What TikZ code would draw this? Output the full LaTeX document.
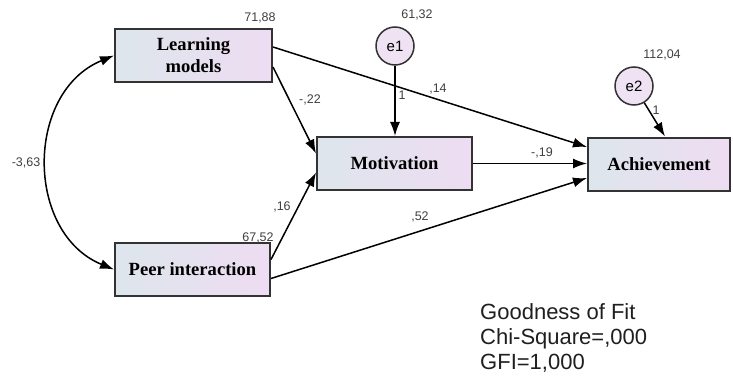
\documentclass[tikz,border=0pt]{standalone}
\usepackage{fontspec}
\setmainfont{Liberation Serif}
\setsansfont{Liberation Sans}
\usetikzlibrary{arrows.meta}
\definecolor{boxL}{HTML}{DDE6EC}
\definecolor{boxR}{HTML}{EEDCF2}
\definecolor{circfill}{HTML}{EEE2F3}
\definecolor{edgegray}{HTML}{333333}
\definecolor{lblgray}{HTML}{404040}
\tikzset{
  varbox/.style={draw=edgegray, line width=2pt, left color=boxL, right color=boxR,
    minimum height=53pt, inner sep=0pt, align=center,
    font=\fontsize{18.6}{22}\selectfont\bfseries},
  errc/.style={circle, draw=edgegray, line width=1.5pt, fill=circfill, minimum size=38pt,
    inner sep=0pt, font=\sffamily\fontsize{15}{15}\selectfont},
  path/.style={draw=black, line width=1.5pt, -{Latex[length=14pt,width=10pt]}},
  lbl/.style={text=lblgray, inner sep=0pt, font=\sffamily\fontsize{12.5}{13}\selectfont}
}
\begin{document}
\begin{tikzpicture}[x=1pt,y=-1pt]
\useasboundingbox (0,0) rectangle (733,377);
% boxes
\node[varbox, minimum width=157pt] (lm) at (193.5,55.5) {Learning\\models};
\node[varbox, minimum width=155pt] (pi) at (192.5,269.5) {Peer interaction};
\node[varbox, minimum width=155pt] (mot) at (394.5,163.5) {Motivation};
\node[varbox, minimum width=142pt] (ach) at (659,164) {Achievement};
% error terms
\node[errc] (e1) at (395,46) {e1};
\node[errc] (e2) at (634,86) {e2};
% paths
\draw[path] ([yshift=8.5pt]lm.east) -- ([yshift=17pt]ach.west);
\draw[path] ([yshift=-11.5pt]lm.east) -- ([yshift=10pt]mot.west);
\draw[path] ([yshift=10pt]pi.east) -- ([yshift=-9pt]mot.west);
\draw[path] ([yshift=-9pt]pi.east) -- ([yshift=-14pt]ach.west);
\draw[path] (mot.east) -- (mot.east -| ach.west);
\draw[path] (e1) -- (mot.north -| e1);
\draw[path] (e2) -- ([xshift=6pt]ach.north);
% covariance
\draw[draw=black, line width=1.5pt, {Latex[length=14pt,width=10pt]}-{Latex[length=14pt,width=10pt]}]
  (lm.west) .. controls (25,92) and (25,233) .. (pi.west);
% labels
\node[lbl] (l1) at (260,18) {71,88};
\node[lbl] (l2) at (417,15) {61,32};
\node[lbl] (l3) at (662,55) {112,04};
\node[lbl] (l4) at (26,163) {-3,63};
\node[lbl] (l5) at (310,100) {-,22};
\node[lbl] (l6) at (438,89) {,14};
\node[lbl] (l7) at (402,95) {1};
\node[lbl] (l8) at (656,110) {1};
\node[lbl] (l9) at (542,153) {-,19};
\node[lbl] (l10) at (282,207) {,16};
\node[lbl] (l11) at (258,238) {67,52};
\node[lbl] (l12) at (420,217) {,52};
% fit
\node[anchor=north west, align=left, inner sep=0pt, text=black!88,
  font=\sffamily\fontsize{22}{25}\selectfont] (fit) at (480,303)
  {Goodness of Fit\\Chi-Square=,000\\GFI=1,000};
\end{tikzpicture}
\end{document}
